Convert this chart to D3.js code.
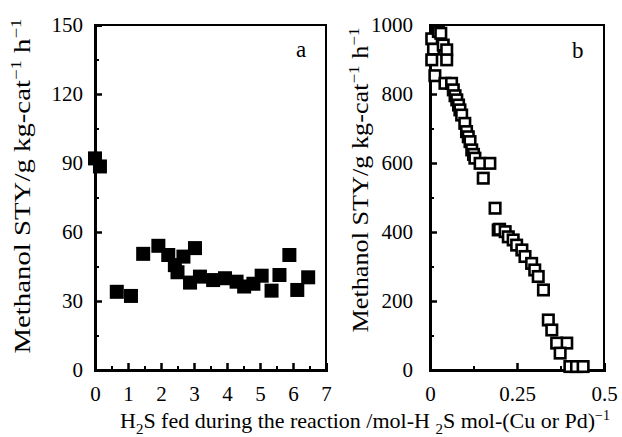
<!DOCTYPE html>
<html><head><meta charset="utf-8">
<script src="https://cdn.jsdelivr.net/npm/d3@7"></script>
<style>
html,body{margin:0;padding:0;background:#fff;}
text{font-family:"Liberation Serif","Times New Roman",serif;fill:#000;}
</style></head>
<body>
<svg id="c" width="622" height="437"></svg>
<script>
// Panel a: H2S fed (mol/mol-Cu) vs Methanol STY
const aX = [0.0,0.15,0.66,1.09,1.46,1.92,2.22,2.42,2.5,2.68,2.88,3.03,3.18,3.58,3.94,4.29,4.52,4.8,5.05,5.35,5.59,5.89,6.13,6.46];
const aY = [92,88.5,34,32.2,50.5,54,50,45.6,42.5,49.3,38,53,40.6,39.1,39.9,38.4,36.3,37.5,41,34.5,41.3,50,34.8,40.3];
// Panel b: H2S fed (mol/mol-Pd) vs Methanol STY
const bX = [0.005,0.024,0.031,0.010,0.038,0.048,0.005,0.048,0.014,0.043,0.062,0.067,0.072,0.077,0.082,0.086,0.091,0.100,0.105,0.110,0.115,0.120,0.125,0.129,0.144,0.172,0.153,0.187,0.196,0.200,0.216,0.225,0.239,0.249,0.264,0.273,0.292,0.301,0.311,0.326,0.340,0.350,0.393,0.364,0.374,0.402,0.421,0.440];
const bY = [960,981,976,930,942,928,899,899,853,831,831,812,795,783,768,754,739,715,691,676,662,638,625,614,599,599,556,469,406,408,401,386,377,362,348,329,309,290,271,232,145,116,78,78,49,10,10,10];
const aXTicks = [0,1,2,3,4,5,6,7];
const aYTicks = [0,30,60,90,120,150];
const bXTicks = [0,0.25,0.5];
const bYTicks = [0,200,400,600,800,1000];

const svg = d3.select("#c");
const top_ = 25, bot = 370;

function panel(o){
  const x = d3.scaleLinear().domain(o.xd).range(o.xr);
  const y = d3.scaleLinear().domain(o.yd).range([bot, top_]);
  const g = svg.append("g");
  g.append("rect").attr("x",o.xr[0]).attr("y",top_).attr("width",o.xr[1]-o.xr[0]).attr("height",bot-top_)
    .attr("fill","none").attr("stroke","#000").attr("stroke-width",2);
  const minY = d3.axisLeft(y).tickValues(o.yMinor).tickSize(-4).tickFormat("");
  const minX = d3.axisBottom(x).tickValues(o.xMinor).tickSize(-4).tickFormat("");
  g.append("g").attr("transform",`translate(${o.xr[0]},0)`).call(minY).call(s=>s.select(".domain").remove()).selectAll("line").attr("stroke-width",2);
  g.append("g").attr("transform",`translate(0,${bot})`).call(minX).call(s=>s.select(".domain").remove()).selectAll("line").attr("stroke-width",2);
  const ay = d3.axisLeft(y).tickValues(o.yTicks).tickSize(-7).tickPadding(o.yPad).tickFormat(d=>String(d));
  const ax = d3.axisBottom(x).tickValues(o.xTicks).tickSize(-7).tickPadding(16).tickFormat(o.xFmt);
  const gy = g.append("g").attr("transform",`translate(${o.xr[0]},0)`).call(ay);
  const gx = g.append("g").attr("transform",`translate(0,${bot})`).call(ax);
  [gy,gx].forEach(s=>{
    s.select(".domain").attr("stroke-width",3).attr("stroke","#000");
    s.selectAll("line").attr("stroke-width",2.5);
    s.selectAll("text").style("font-family","Liberation Serif").style("font-size","21px").attr("fill","#000");
  });
  g.append("g").selectAll("rect.pt").data(o.xs.map((v,i)=>[v,o.ys[i]])).join("rect")
    .attr("x",d=>x(d[0])-o.sz/2).attr("y",d=>y(d[1])-o.sz/2).attr("width",o.sz).attr("height",o.sz)
    .attr("fill",o.fill).attr("stroke","#000").attr("stroke-width",o.sw);
  g.append("text").attr("x",o.lab[0]).attr("y",o.lab[1]).style("font-size","23px").text(o.letter);
  const t = g.append("text").attr("transform",`translate(${o.tx},${o.ty}) rotate(-90)`)
    .attr("text-anchor","middle").style("font-size","23px")
    .attr("textLength",o.tl).attr("lengthAdjust","spacingAndGlyphs");
  t.append("tspan").text("Methanol STY/g kg-cat");
  t.append("tspan").attr("dy",-9).style("font-size","15px").text("−1");
  t.append("tspan").attr("dy",9).text(" h");
  t.append("tspan").attr("dy",-9).style("font-size","15px").text("−1");
  return {x,y};
}

panel({xd:[0,7], xr:[95,326], yd:[0,150], xTicks:aXTicks, yTicks:aYTicks,
  xMinor:[0.5,1.5,2.5,3.5,4.5,5.5,6.5], yMinor:[15,45,75,105,135], yPad:12,
  xFmt:d=>String(d), xs:aX, ys:aY, sz:14, fill:"#000", sw:0, lab:[296,57], letter:"a",
  tx:30, ty:186, tl:335});
panel({xd:[0,0.5], xr:[430,604], yd:[0,1000], xTicks:bXTicks, yTicks:bYTicks,
  xMinor:[0.125,0.375], yMinor:[100,300,500,700,900], yPad:17,
  xFmt:d=>d===0?"0":String(d), xs:bX, ys:bY, sz:10.5, fill:"#fff", sw:2.6, lab:[572,58], letter:"b",
  tx:368, ty:180, tl:305});

const xt = svg.append("text").attr("x",365).attr("y",428).attr("text-anchor","middle").style("font-size","22px");
xt.append("tspan").text("H");
xt.append("tspan").attr("dy",6).style("font-size","15px").text("2");
xt.append("tspan").attr("dy",-6).text("S fed during the reaction /mol-H ");
xt.append("tspan").attr("dy",6).style("font-size","15px").text("2");
xt.append("tspan").attr("dy",-6).text("S mol-(Cu or Pd)");
xt.append("tspan").attr("dy",-8).style("font-size","14px").text("−1");
</script>
</body></html>
